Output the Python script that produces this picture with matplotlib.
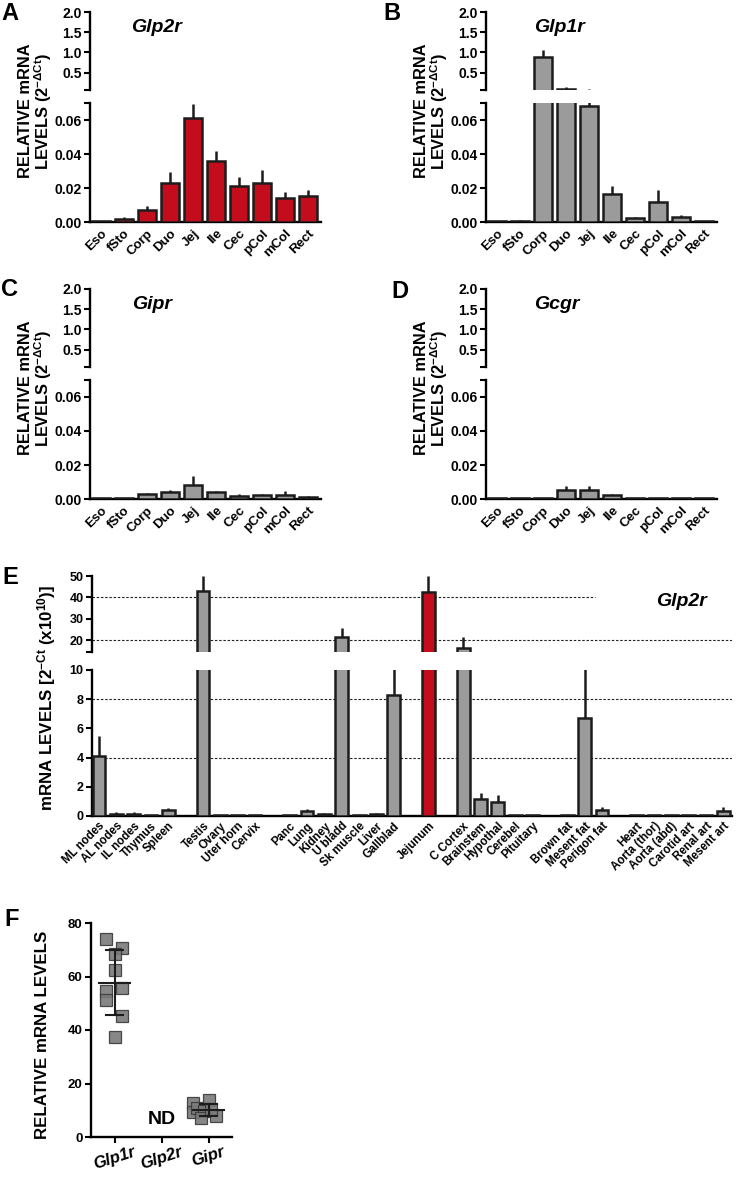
import numpy as np
import matplotlib
matplotlib.use('Agg')
import matplotlib.pyplot as plt

plt.rcParams['font.family'] = ['Liberation Sans', 'DejaVu Sans']
plt.rcParams['font.weight'] = 'bold'
plt.rcParams['mathtext.fontset'] = 'custom'
plt.rcParams['mathtext.rm'] = 'Liberation Sans:bold'
plt.rcParams['mathtext.bf'] = 'Liberation Sans:bold'
plt.rcParams['mathtext.it'] = 'Liberation Sans:bold:italic'
plt.rcParams['mathtext.default'] = 'bf'

# ---------------- data ----------------
gi_tissues = ['Eso', 'fSto', 'Corp', 'Duo', 'Jej', 'Ile', 'Cec', 'pCol', 'mCol', 'Rect']

glp2r_gi_mean = [0.0008, 0.0015, 0.0070, 0.0230, 0.0612, 0.0360, 0.0212, 0.0228, 0.0140, 0.0153]
glp2r_gi_sem = [0.0, 0.0013, 0.0024, 0.0066, 0.0082, 0.0058, 0.0053, 0.0078, 0.0037, 0.0035]

glp1r_gi_mean = [0.0008, 0.0008, 0.88, 0.10, 0.068, 0.0165, 0.0022, 0.012, 0.0027, 0.0008]
glp1r_gi_sem = [0.0, 0.0004, 0.19, 0.05, 0.020, 0.0045, 0.0008, 0.007, 0.0013, 0.0]

gipr_gi_mean = [0.0006, 0.0006, 0.0030, 0.0040, 0.0085, 0.0040, 0.0020, 0.0025, 0.0023, 0.0012]
gipr_gi_sem = [0.0, 0.0, 0.0008, 0.0015, 0.0050, 0.0010, 0.0008, 0.0006, 0.0022, 0.0003]

gcgr_gi_mean = [0.0005, 0.0005, 0.0003, 0.0055, 0.0055, 0.0025, 0.0004, 0.0004, 0.0004, 0.0005]
gcgr_gi_sem = [0.0, 0.0, 0.0, 0.0020, 0.0020, 0.0006, 0.0, 0.0, 0.0, 0.0]

body_tissues = ['ML nodes', 'AL nodes', 'IL nodes', 'Thymus', 'Spleen',
                'Testis', 'Ovary', 'Uter horn', 'Cervix',
                'Panc', 'Lung', 'Kidney', 'U bladd', 'Sk muscle', 'Liver', 'Gallblad',
                'Jejunum',
                'C Cortex', 'Brainstem', 'Hypothal', 'Cerebel', 'Pituitary',
                'Brown fat', 'Mesent fat', 'Perigon fat',
                'Heart', 'Aorta (thor)', 'Aorta (abd)', 'Carotid art', 'Renal art', 'Mesent art']
body_group = [0] * 5 + [1] * 4 + [2] * 7 + [3] + [4] * 5 + [5] * 3 + [6] * 6
body_mean = [4.1, 0.15, 0.15, 0.08, 0.40,
             43.0, 0.08, 0.05, 0.05,
             0.05, 0.35, 0.12, 21.5, 0.05, 0.15, 8.3,
             42.3,
             16.5, 1.16, 0.96, 0.08, 0.05,
             0.05, 6.7, 0.40,
             0.08, 0.05, 0.05, 0.05, 0.05, 0.35]
body_sem = [1.4, 0.10, 0.10, 0.0, 0.15,
            7.0, 0.02, 0.0, 0.0,
            0.0, 0.15, 0.06, 4.0, 0.0, 0.07, 3.0,
            7.7,
            4.7, 0.42, 0.48, 0.02, 0.0,
            0.0, 4.0, 0.20,
            0.02, 0.0, 0.0, 0.0, 0.0, 0.25]

f_genes = ['Glp1r', 'Glp2r', 'Gipr']
f_glp1r = [73.9, 70.8, 68.5, 62.3, 54.6, 51.3, 55.7, 45.1, 37.4]
f_glp1r_jit = [-0.19, 0.16, 0.0, 0.0, -0.19, -0.19, 0.16, 0.16, 0.0]
f_gipr = [12.6, 9.5, 13.8, 11.0, 9.7, 7.0, 8.0, 10.5]
f_gipr_jit = [-0.34, -0.34, 0.0, -0.24, -0.10, -0.17, 0.17, 0.06]

# ---------------- style ----------------
W, H = 745, 1177
GREY = '#9b9b9b'
RED = '#c30d1d'
EDGE = '#1c1c1c'
LW = 1.8

fig = plt.figure(figsize=(W / 100, H / 100), dpi=100)


def box(x0, x1, ytop, ybot):
    return [x0 / W, 1 - ybot / H, (x1 - x0) / W, (ybot - ytop) / H]


def ftext(x, y, s, **kw):
    fig.text(x / W, 1 - y / H, s, **kw)


def style_axes(ax, upper):
    for s in ['top', 'right']:
        ax.spines[s].set_visible(False)
    ax.spines['left'].set_linewidth(1.7)
    ax.spines['bottom'].set_linewidth(1.7)
    if upper:
        ax.spines['bottom'].set_visible(False)
        ax.set_xticks([])
    ax.tick_params(axis='y', direction='out', length=4, width=1.5, pad=2)
    ax.tick_params(axis='x', length=0)
    ax.set_facecolor('none')


def draw_bars(ax, xs, mean, sem, colors, width, ymin):
    mean = np.asarray(mean, dtype=float)
    sem = np.asarray(sem, dtype=float)
    xs = np.asarray(xs, dtype=float)
    colors = np.asarray(colors, dtype=object)
    keep_e = (mean + sem) > ymin
    ax.vlines(xs[keep_e], mean[keep_e], (mean + sem)[keep_e], color=EDGE, lw=LW, zorder=2)
    keep = mean > ymin
    ax.bar(xs[keep], mean[keep], width, color=list(colors[keep]), edgecolor=EDGE,
           linewidth=LW, zorder=3)


def gi_panel(x0, x1, ytop, mean, sem, color, gene, letter, lx, ly, gx, gy):
    ax_u = fig.add_axes(box(x0, x1, ytop, ytop + 78))
    ax_l = fig.add_axes(box(x0, x1, ytop + 91, ytop + 210))
    xs = np.arange(len(gi_tissues))
    cols = [color] * len(gi_tissues)
    draw_bars(ax_u, xs, mean, sem, cols, 0.78, 0.07)
    draw_bars(ax_l, xs, mean, sem, cols, 0.78, -1)
    for ax, up in ((ax_u, True), (ax_l, False)):
        ax.set_xlim(-0.47, 9.55)
        style_axes(ax, up)
    ax_u.set_ylim(0.07, 2.0)
    ax_u.set_yticks([0.07, 0.5, 1.0, 1.5, 2.0])
    ax_u.set_yticklabels(['', '0.5', '1.0', '1.5', '2.0'], fontsize=10, fontweight='bold')
    ax_l.set_ylim(0, 0.07)
    ax_l.set_yticks([0, 0.02, 0.04, 0.06, 0.07])
    ax_l.set_yticklabels(['0.00', '0.02', '0.04', '0.06', ''], fontsize=10, fontweight='bold')
    ax_l.set_xticks(xs)
    ax_l.set_xticklabels(gi_tissues, rotation=45, ha='right', rotation_mode='anchor',
                         fontsize=9.5, fontweight='bold')
    ax_l.tick_params(axis='x', pad=4)
    ftext(lx, ly, letter, fontsize=17, fontweight='bold', ha='center', va='center')
    ftext(gx, gy, gene, fontsize=14, fontweight='bold', style='italic', ha='center', va='center')
    yl = ytop + 99
    ftext(x0 - 64, yl, 'RELATIVE mRNA', rotation=90, fontsize=11.8, fontweight='bold',
          ha='center', va='center')
    ftext(x0 - 47, yl, 'LEVELS (2$^{-ΔCt}$)', rotation=90, fontsize=11.8, fontweight='bold',
          ha='center', va='center')


gi_panel(90, 321, 12, glp2r_gi_mean, glp2r_gi_sem, RED, 'Glp2r', 'A', 10, 13, 156, 27)
gi_panel(486, 717, 12, glp1r_gi_mean, glp1r_gi_sem, GREY, 'Glp1r', 'B', 392, 13, 559, 27)
gi_panel(90, 321, 289, gipr_gi_mean, gipr_gi_sem, GREY, 'Gipr', 'C', 10, 289, 152, 305)
gi_panel(486, 717, 289, gcgr_gi_mean, gcgr_gi_sem, GREY, 'Gcgr', 'D', 400, 292, 557, 305)

# ---------------- panel E ----------------
ex = np.arange(len(body_tissues)) + np.asarray(body_group)
ecol = [RED if t == 'Jejunum' else GREY for t in body_tissues]
axe_u = fig.add_axes(box(92, 732, 576, 652))
axe_l = fig.add_axes(box(92, 732, 670, 816))
draw_bars(axe_u, ex, body_mean, body_sem, ecol, 0.74, 14.4)
draw_bars(axe_l, ex, body_mean, body_sem, ecol, 0.74, -1)
for ax, up in ((axe_u, True), (axe_l, False)):
    ax.set_xlim(-0.4, 36.5)
    style_axes(ax, up)
axe_u.set_ylim(14.4, 50)
axe_u.set_yticks([14.4, 20, 30, 40, 50])
axe_u.set_yticklabels(['', '20', '30', '40', '50'], fontsize=9, fontweight='bold')
axe_l.set_ylim(0, 10)
axe_l.set_yticks([0, 2, 4, 6, 8, 10])
axe_l.set_yticklabels(['0', '2', '4', '6', '8', '10'], fontsize=9, fontweight='bold')
gkw = dict(color='#222222', lw=0.8, ls=(0, (2.2, 1.6)), zorder=1)
axe_u.axhline(40, xmax=0.786, **gkw)
axe_u.axhline(20, **gkw)
axe_l.axhline(8, **gkw)
axe_l.axhline(4, **gkw)
axe_l.set_xticks(ex)
axe_l.set_xticklabels(body_tissues, rotation=45, ha='right', rotation_mode='anchor',
                      fontsize=8.3, fontweight='bold')
axe_l.tick_params(axis='x', pad=3)
ftext(10, 578, 'E', fontsize=17, fontweight='bold', ha='center', va='center')
ftext(681, 601, 'Glp2r', fontsize=14, fontweight='bold', style='italic', ha='center', va='center')
ftext(47, 698, 'mRNA LEVELS [2$^{-Ct}$ (x10$^{10}$)]', rotation=90, fontsize=12.2,
      fontweight='bold', ha='center', va='center')

# ---------------- panel F ----------------
axf = fig.add_axes(box(91, 232, 923, 1137))
for s in ['top', 'right']:
    axf.spines[s].set_visible(False)
axf.spines['left'].set_linewidth(1.7)
axf.spines['bottom'].set_linewidth(1.7)
mkw = dict(marker='s', ls='none', ms=8.4, mfc='#7a7a7a', mec='#3a3a3a', mew=0.9, alpha=0.9, zorder=2)
axf.plot(0 + np.asarray(f_glp1r_jit), f_glp1r, **mkw)
axf.plot(2 + np.asarray(f_gipr_jit), f_gipr, **mkw)
for xc, vals in ((0, f_glp1r), (2, f_gipr)):
    m = np.mean(vals)
    sd = np.std(vals, ddof=1)
    axf.plot([xc - 0.33, xc + 0.33], [m, m], color='#1c1c1c', lw=1.5, zorder=3)
    axf.plot([xc, xc], [m - sd, m + sd], color='#1c1c1c', lw=1.5, zorder=3)
    for yy in (m - sd, m + sd):
        axf.plot([xc - 0.18, xc + 0.18], [yy, yy], color='#1c1c1c', lw=1.5, zorder=3)
axf.text(1, 3.5, 'ND', fontsize=14, fontweight='bold', ha='center', va='bottom')
axf.set_xlim(-0.5, 2.5)
axf.set_ylim(0, 80)
axf.set_yticks([0, 20, 40, 60, 80])
axf.set_yticklabels(['0', '20', '40', '60', '80'], fontsize=9.5, fontweight='bold')
axf.set_xticks([0, 1, 2])
axf.set_xticklabels(f_genes, rotation=18, ha='center', va='top', fontsize=12,
                    fontweight='bold', style='italic')
axf.tick_params(axis='both', direction='out', length=4, width=1.5, pad=2)
axf.tick_params(axis='x', pad=1)
ftext(12, 919, 'F', fontsize=17, fontweight='bold', ha='center', va='center')
ftext(43, 1035, 'RELATIVE mRNA LEVELS', rotation=90, fontsize=12.2, fontweight='bold',
      ha='center', va='center')

fig.savefig('out.png', dpi=100)
